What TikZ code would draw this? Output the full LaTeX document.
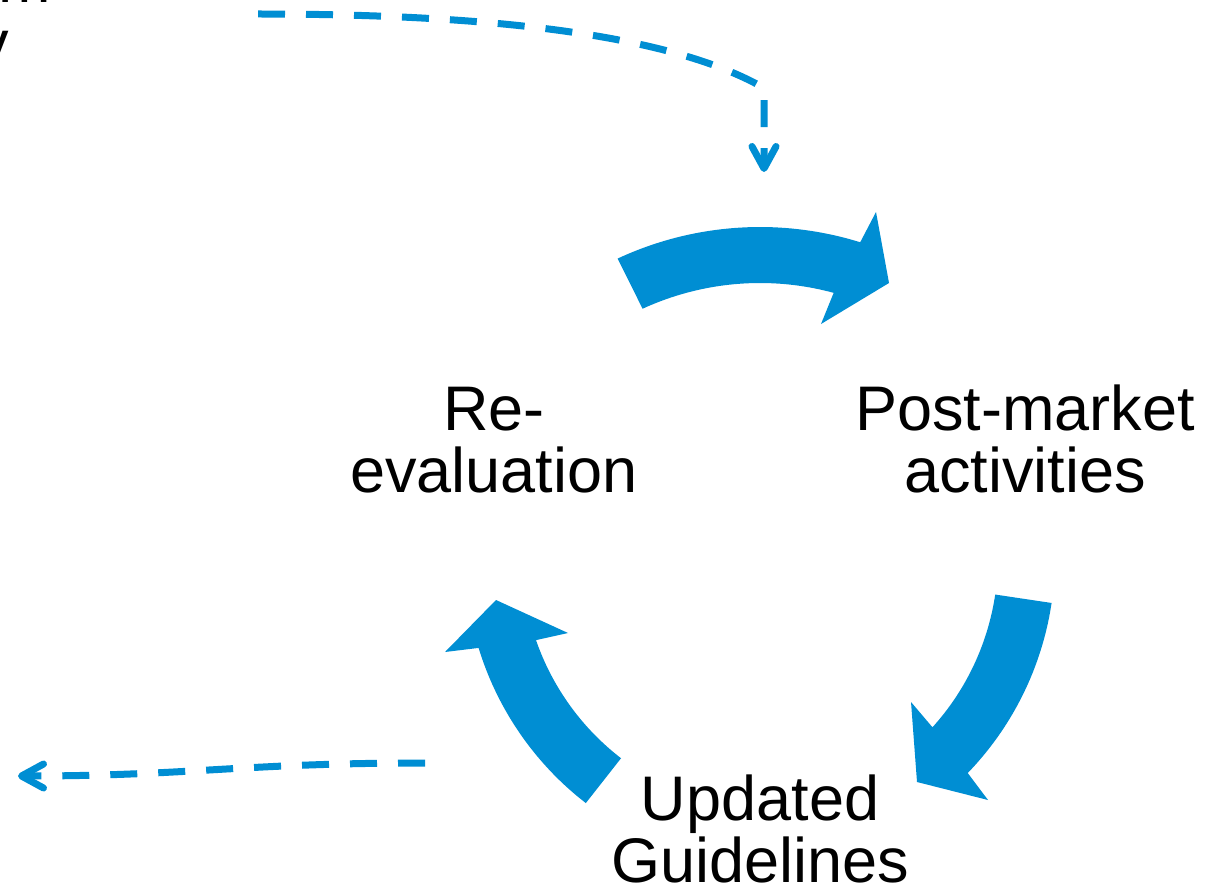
\documentclass[tikz,border=0pt]{standalone}
\usepackage{fontspec}
\setmainfont{Liberation Sans}
\usetikzlibrary{arrows.meta}
\definecolor{cycblue}{RGB}{0,142,211}
\begin{document}
\begin{tikzpicture}[x=1pt,y=-1pt,
  lbl/.style={font=\fontsize{63}{62}\selectfont, align=center, inner sep=0pt, anchor=base},
  band/.style={fill=cycblue, draw=none},
  dashlink/.style={draw=cycblue, line width=7pt, dash pattern=on 27pt off 21pt,
    -{Straight Barb[length=22pt,width=24pt,round]}}]
\useasboundingbox (0,0) rectangle (1214,888);
\clip (0,0) rectangle (1214,888);
\fill[white] (0,0) rectangle (1214,888);

% text nodes (anchor base = baseline of the last line)
\node[lbl] (cut) at (-66,65) {program\\study};
\node[lbl] (reeval) at (494,492) {Re-\\evaluation};
\node[lbl] (post) at (1025,492) {Post-market\\activities};
\node[lbl] (upd) at (760,882) {Updated\\Guidelines};

% top curved arrow
\fill[band] plot[domain=115:72.7,samples=40] ({760+337*cos(\x)},{564-337*sin(\x)})
  -- (876,212) -- (889,283) -- (821,324)
  -- plot[domain=74.8:114.7,samples=40] ({760+281*cos(\x)},{564-281*sin(\x)}) -- cycle;

% right curved arrow
\fill[band] plot[domain=-8.5:-44,samples=40] ({744+311*cos(\x)},{557-311*sin(\x)})
  -- (988,800) -- (917,782) -- (911,702)
  -- plot[domain=-42.1:-8.5,samples=40] ({744+254*cos(\x)},{557-254*sin(\x)}) -- cycle;

% left curved arrow
\fill[band] plot[domain=232.3:197,samples=40] ({776+311*cos(\x)},{557-311*sin(\x)})
  -- (445,652) -- (496,600) -- (568,633)
  -- plot[domain=199.1:232.4,samples=40] ({776+254*cos(\x)},{557-254*sin(\x)}) -- cycle;

% dashed connectors
\coordinate (d1s) at (258,14);
\coordinate (d1c) at (764,88);
\coordinate (d1e) at (764,172);
\draw[dashlink] (d1s) .. controls (520,14) and (680,40) .. (d1c) -- (d1e);

\coordinate (d2s) at (425,763);
\coordinate (d2e) at (18,776);
\draw[dashlink] (d2s) .. controls (240,763) and (190,776) .. (d2e);
\end{tikzpicture}
\end{document}
